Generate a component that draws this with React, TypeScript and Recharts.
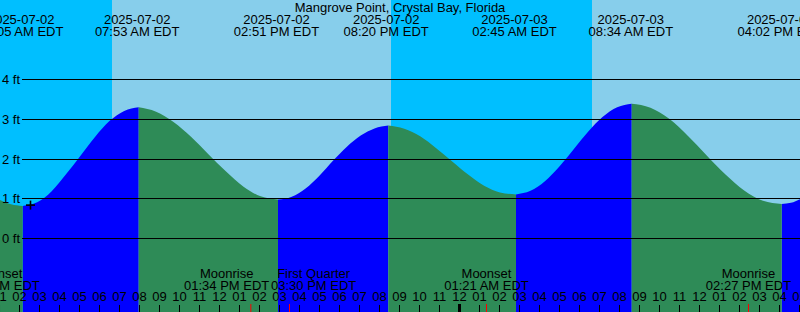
import React from "react";
import { ComposedChart, Area, XAxis, YAxis, ReferenceArea, ReferenceDot } from "recharts";

const title = "Mangrove Point, Crystal Bay, Florida";

// hours counted from 2025-07-02 00:00 EDT
const tideHours = [
  1.025, 1.575, 2.16, 2.885, 3.61, 4.335, 5.06, 5.785, 6.51, 7.235, 7.96,
  8.83, 9.7, 10.575, 11.445, 12.315, 13.185, 14.055, 14.925,
  15.615, 16.305, 16.995, 17.685, 18.37, 19.06, 19.75, 20.44,
  21.24, 22.035, 22.835, 23.635, 24.43, 25.23, 26.025, 26.825,
  27.55, 28.27, 28.995, 29.72, 30.44, 31.165, 31.885, 32.61,
  33.55, 34.485, 35.425, 36.36, 37.3, 38.235, 39.175, 40.11,
  40.575, 41.025,
];
const tideFeet = [
  0.97, 0.86, 0.82, 0.91, 1.19, 1.62, 2.09, 2.56, 2.96, 3.21, 3.3,
  3.19, 2.93, 2.56, 2.12, 1.69, 1.31, 1.06, 0.98,
  1.05, 1.26, 1.58, 1.96, 2.31, 2.59, 2.77, 2.84,
  2.76, 2.57, 2.27, 1.94, 1.61, 1.33, 1.16, 1.11,
  1.2, 1.44, 1.81, 2.25, 2.69, 3.06, 3.3, 3.39,
  3.29, 3.01, 2.58, 2.09, 1.61, 1.21, 0.95, 0.87,
  0.9, 0.99,
];

const extremeHours = [2.083, 7.883, 14.85, 20.333, 26.75, 32.567, 40.033];
const extremeDates = ["2025-07-02", "2025-07-02", "2025-07-02", "2025-07-02", "2025-07-03", "2025-07-03", "2025-07-03"];
const extremeTimes = ["02:05 AM EDT", "07:53 AM EDT", "02:51 PM EDT", "08:20 PM EDT", "02:45 AM EDT", "08:34 AM EDT", "04:02 PM EDT"];

const moonHours = [0.9, 13.567, 15.5, 25.35, 38.45];
const moonNames = ["Moonset", "Moonrise", "First Quarter", "Moonset", "Moonrise"];
const moonTimes = ["12:54 AM EDT", "01:34 PM EDT", "03:30 PM EDT", "01:21 AM EDT", "02:27 PM EDT"];

// sunrise, sunset, sunrise
const sunHours = [6.625, 20.575, 30.625];

const hourLabels = [
  "01", "02", "03", "04", "05", "06", "07", "08", "09", "10", "11", "12",
  "01", "02", "03", "04", "05", "06", "07", "08", "09", "10", "11", "12",
  "01", "02", "03", "04", "05", "06", "07", "08", "09", "10", "11", "12",
  "01", "02", "03", "04", "05",
];
const feetTicks = [0, 1, 2, 3, 4];

const nowHours = 2.55;
const nowFeet = 0.84;

const START = 1.025;
const END = 41.025;
const Y_MIN = -1.849;
const Y_MAX = 6.0;

const NIGHT = "#00BFFF";
const DAY = "#87CEEB";
const FLOOD = "#0000FF";
const EBB = "#2E8B57";
const FONT = "'Liberation Sans', Arial, sans-serif";

const rows = tideHours.map((t, i) => {
  const h = tideFeet[i];
  const prev = tideFeet[i - 1];
  const next = tideFeet[i + 1];
  const rising = (prev !== undefined && h > prev) || (next !== undefined && next > h);
  const falling = (prev !== undefined && h < prev) || (next !== undefined && next < h);
  return { t, flood: rising ? h : null, ebb: falling ? h : null };
});

const edges = [START, ...sunHours, END];
const bands = edges.slice(0, -1).map((x1, i) => ({ x1, x2: edges[i + 1], fill: i % 2 === 0 ? NIGHT : DAY }));

// push overlapping moon labels apart
const MOON_LABEL_SPAN = 4.35;
const moonLabelHours = moonHours.slice();
for (let i = 0; i < moonLabelHours.length - 1; i++) {
  const a = moonLabelHours[i];
  const b = moonLabelHours[i + 1];
  if (b - a < MOON_LABEL_SPAN) {
    const mid = (a + b) / 2;
    moonLabelHours[i] = mid - MOON_LABEL_SPAN / 2;
    moonLabelHours[i + 1] = mid + MOON_LABEL_SPAN / 2;
  }
}

const txt = { fontFamily: FONT, fontSize: 13, fill: "#000" };

function HourTick(props: any) {
  const { x, payload } = props;
  const t = payload.value;
  return (
    <g>
      <text x={x} y={301} textAnchor="middle" {...txt}>{hourLabels[t - 1]}</text>
      {t % 24 === 0 ? (
        <rect x={x - 1.5} y={304} width={3} height={8} fill="#000" />
      ) : (
        <line x1={x} x2={x} y1={305} y2={312} stroke="#000" strokeWidth={1} />
      )}
    </g>
  );
}

function MoonMark(props: any) {
  const { x } = props;
  return <line x1={x} x2={x} y1={304} y2={312} stroke="#FF0000" strokeWidth={1} />;
}

function MoonLabel(props: any) {
  const { x, index } = props;
  return (
    <g>
      <text x={x} y={278} textAnchor="middle" {...txt}>{moonNames[index]}</text>
      <text x={x} y={290} textAnchor="middle" {...txt}>{moonTimes[index]}</text>
    </g>
  );
}

function ExtremeLabel(props: any) {
  const { x, index } = props;
  return (
    <g>
      <text x={x} y={24} textAnchor="middle" {...txt}>{extremeDates[index]}</text>
      <text x={x} y={36} textAnchor="middle" {...txt}>{extremeTimes[index]}</text>
    </g>
  );
}

function FeetTick(props: any) {
  const { y, payload } = props;
  const yy = Math.floor(y) + 0.5;
  return (
    <g>
      <line x1={22} x2={800} y1={yy} y2={yy} stroke="#000" strokeWidth={1} />
      <text x={2} y={yy + 4} textAnchor="start" {...txt}>{`${payload.value} ft`}</text>
    </g>
  );
}

function NowCross(props: any) {
  const { cx, cy } = props;
  return (
    <g stroke="#000" strokeWidth={1.6}>
      <line x1={cx - 4.5} x2={cx + 4.5} y1={cy} y2={cy} />
      <line x1={cx} x2={cx} y1={cy - 4.5} y2={cy + 4.5} />
    </g>
  );
}

// axes need a non-zero size to draw; margins cancel it so the plot fills the svg
const axisCommon = {
  dataKey: "t",
  type: "number" as const,
  domain: [START, END],
  allowDataOverflow: true,
  interval: 0 as const,
  height: 1,
  axisLine: false,
  tickLine: false,
};

export default function App() {
  return (
    <div style={{ position: "absolute", left: 0, top: 0, width: 800, height: 312 }}>
      <ComposedChart width={800} height={312} data={rows} margin={{ top: -1, right: 0, bottom: -3, left: -1 }}>
        {bands.map((b, i) => (
          <ReferenceArea
            key={i}
            xAxisId="hours"
            x1={b.x1}
            x2={b.x2}
            y1={Y_MIN}
            y2={Y_MAX}
            fill={b.fill}
            fillOpacity={1}
            stroke="none"
            ifOverflow="visible"
          />
        ))}
        <Area
          xAxisId="hours"
          dataKey="flood"
          type="monotone"
          baseValue={Y_MIN}
          fill={FLOOD}
          fillOpacity={1}
          stroke="none"
          dot={false}
          activeDot={false}
          isAnimationActive={false}
        />
        <Area
          xAxisId="hours"
          dataKey="ebb"
          type="monotone"
          baseValue={Y_MIN}
          fill={EBB}
          fillOpacity={1}
          stroke="none"
          dot={false}
          activeDot={false}
          isAnimationActive={false}
        />
        <XAxis xAxisId="hours" {...axisCommon} ticks={hourLabels.map((_, i) => i + 1)} tick={<HourTick />} />
        <XAxis xAxisId="moonMarks" {...axisCommon} ticks={moonHours} tick={<MoonMark />} />
        <XAxis xAxisId="moonLabels" {...axisCommon} ticks={moonLabelHours} tick={<MoonLabel />} />
        <XAxis xAxisId="extremes" orientation="top" {...axisCommon} ticks={extremeHours} tick={<ExtremeLabel />} />
        <YAxis
          type="number"
          domain={[Y_MIN, Y_MAX]}
          allowDataOverflow
          ticks={feetTicks}
          interval={0}
          width={1}
          axisLine={false}
          tickLine={false}
          tick={<FeetTick />}
        />
        <ReferenceDot xAxisId="hours" x={nowHours} y={nowFeet} r={0} shape={<NowCross />} ifOverflow="visible" />
      </ComposedChart>
      <div
        style={{
          position: "absolute",
          left: 0,
          top: 0,
          width: 800,
          textAlign: "center",
          fontFamily: FONT,
          fontSize: 13,
          lineHeight: "15px",
          color: "#000",
        }}
      >
        {title}
      </div>
    </div>
  );
}
